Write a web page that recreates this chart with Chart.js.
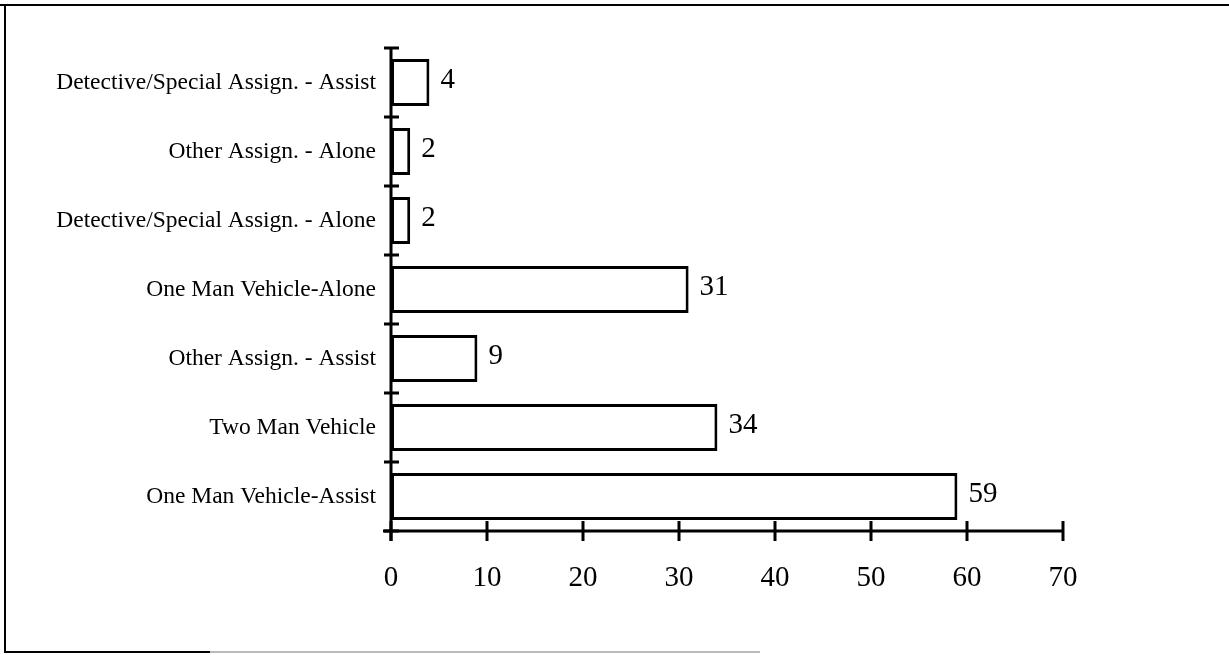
<!DOCTYPE html>
<html>
<head>
<meta charset="utf-8">
<script src="https://cdn.jsdelivr.net/npm/chart.js@4"></script>
<style>
html,body{margin:0;padding:0;background:#fff;}
canvas{display:block;}
</style>
</head>
<body>
<canvas id="c" width="1229" height="655"></canvas>
<script>
const categories = [
  "Detective/Special Assign. - Assist",
  "Other Assign. - Alone",
  "Detective/Special Assign. - Alone",
  "One Man Vehicle-Alone",
  "Other Assign. - Assist",
  "Two Man Vehicle",
  "One Man Vehicle-Assist"
];
const counts = [4, 2, 2, 31, 9, 34, 59];
const xTicks = [0, 10, 20, 30, 40, 50, 60, 70];

const SERIF = "'Liberation Serif', 'Times New Roman', serif";

const frame = {
  id: 'frame',
  beforeDraw(chart) {
    const ctx = chart.ctx;
    ctx.save();
    ctx.fillStyle = '#fff';
    ctx.fillRect(0, 0, chart.width, chart.height);
    ctx.strokeStyle = '#000';
    ctx.lineWidth = 2;
    ctx.beginPath();
    ctx.moveTo(0, 5); ctx.lineTo(chart.width, 5);
    ctx.moveTo(5, 4); ctx.lineTo(5, 653);
    ctx.moveTo(4, 652); ctx.lineTo(210, 652);
    ctx.stroke();
    ctx.strokeStyle = '#777';
    ctx.lineWidth = 1;
    ctx.beginPath();
    ctx.moveTo(210, 652); ctx.lineTo(760, 652);
    ctx.stroke();
    ctx.restore();
  }
};

const axes = {
  id: 'axes',
  afterDatasetsDraw(chart) {
    const ctx = chart.ctx;
    const xs = chart.scales.x, ys = chart.scales.y;
    const x0 = xs.getPixelForValue(0);
    const xEnd = xs.getPixelForValue(xTicks[xTicks.length - 1]);
    const yTop = ys.getPixelForValue(-0.5);
    const yBot = ys.getPixelForValue(categories.length - 0.5);
    ctx.save();
    ctx.strokeStyle = '#000';
    ctx.lineCap = 'butt';
    ctx.lineWidth = 3;
    ctx.beginPath();
    ctx.moveTo(x0, yTop); ctx.lineTo(x0, yBot + 10);
    ctx.moveTo(x0 - 8, yBot); ctx.lineTo(xEnd, yBot);
    ctx.stroke();
    ctx.lineWidth = 3;
    ctx.beginPath();
    for (let i = 0; i <= categories.length; i++) {
      const y = ys.getPixelForValue(i - 0.5);
      ctx.moveTo(x0 - 7, y); ctx.lineTo(x0 + 8, y);
    }
    xTicks.forEach(v => {
      const x = xs.getPixelForValue(v);
      ctx.moveTo(x, yBot - 10); ctx.lineTo(x, yBot + 10);
    });
    ctx.stroke();
    // value labels
    ctx.fillStyle = '#000';
    ctx.font = "29px " + SERIF;
    ctx.textAlign = 'left';
    ctx.textBaseline = 'middle';
    const meta = chart.getDatasetMeta(0);
    meta.data.forEach((bar, i) => {
      ctx.fillText(String(counts[i]), bar.x + 11, bar.y - 2);
    });
    ctx.restore();
  }
};

new Chart(document.getElementById('c'), {
  type: 'bar',
  data: {
    labels: categories,
    datasets: [{
      data: counts,
      backgroundColor: '#fff',
      borderColor: '#000',
      borderWidth: 3,
      borderSkipped: false,
      barPercentage: 0.68,
      categoryPercentage: 1.0
    }]
  },
  options: {
    indexAxis: 'y',
    responsive: false,
    animation: false,
    devicePixelRatio: 1,
    layout: { padding: { top: 48, right: 166, left: 0, bottom: 0 } },
    plugins: { legend: { display: false }, tooltip: { enabled: false } },
    scales: {
      x: {
        type: 'linear',
        min: 0, max: 70,
        afterBuildTicks(scale) { scale.ticks = xTicks.map(v => ({ value: v })); },
        afterFit(scale) { scale.height = 124; },
        grid: { display: false, drawTicks: false },
        border: { display: false },
        ticks: { color: '#000', font: { family: SERIF, size: 29 }, padding: 30, maxRotation: 0 }
      },
      y: {
        type: 'category',
        offset: true,
        afterFit(scale) { scale.width = 391; },
        grid: { display: false, drawTicks: false },
        border: { display: false },
        ticks: { color: '#000', font: { family: SERIF, size: 23.5 }, padding: 15, autoSkip: false }
      }
    }
  },
  plugins: [frame, axes]
});
</script>
</body>
</html>
